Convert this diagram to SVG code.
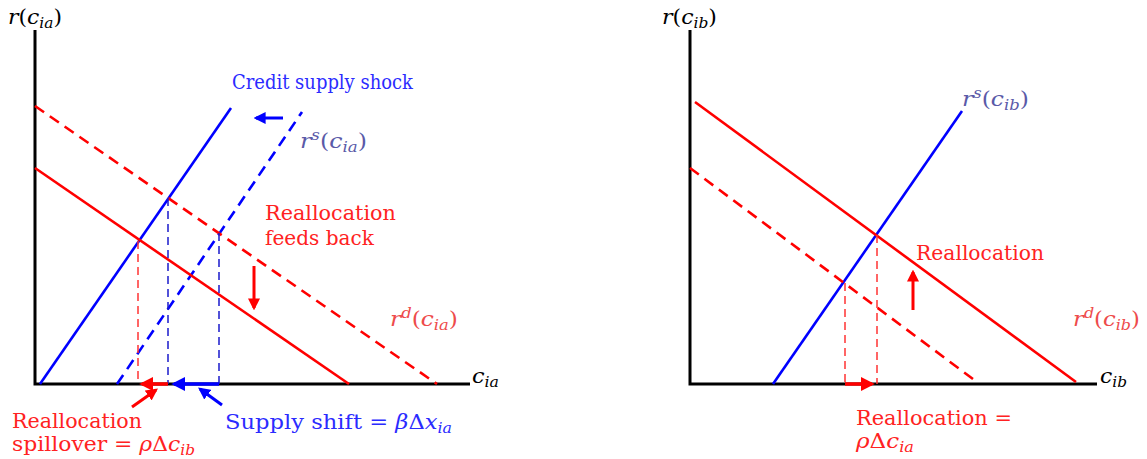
<svg xmlns="http://www.w3.org/2000/svg" width="1147" height="459" viewBox="0 0 1147 459">
<defs>
<style>
text{font-family:"DejaVu Serif","Liberation Serif",serif;font-size:20px}
.it{font-style:italic}
.sub{font-size:14px;font-style:italic}
.sup{font-size:14px;font-style:italic}
.axis{stroke:#000;stroke-width:3;fill:none}
.bl{stroke:#0000ff;stroke-width:2.6;fill:none}
.bld{stroke:#0000ff;stroke-width:2.6;fill:none;stroke-dasharray:11,7}
.rd{stroke:#ff0000;stroke-width:2.6;fill:none}
.rdd{stroke:#ff0000;stroke-width:2.6;fill:none;stroke-dasharray:11,7}
.vb{stroke:#1a1acc;stroke-width:1.5;fill:none;stroke-dasharray:8,5}
.vr{stroke:#ff3333;stroke-width:1.5;fill:none;stroke-dasharray:8,5}
.ab{stroke:#0000ff;stroke-width:3.5;fill:none}
.ar{stroke:#ff0000;stroke-width:3.5;fill:none}
.tb{fill:#2b2bff}
.tsb{fill:#5a5aa8}
.tr{fill:#ff2222}
.trl{fill:#ee4b4b}
</style>
<marker id="hb" viewBox="0 0 10 10" refX="8" refY="5" markerWidth="4" markerHeight="4" markerUnits="strokeWidth" orient="auto"><path d="M0,0 L10,5 L0,10 z" fill="#0000ff"/></marker>
<marker id="hr" viewBox="0 0 10 10" refX="8" refY="5" markerWidth="4" markerHeight="4" markerUnits="strokeWidth" orient="auto"><path d="M0,0 L10,5 L0,10 z" fill="#ff0000"/></marker>
</defs>

<g id="left-panel">
<g id="left-axes">
<path class="axis" d="M35,30 V384 H470"/>
<text x="8" y="24" textLength="54" lengthAdjust="spacingAndGlyphs"><tspan class="it">r</tspan>(<tspan class="it">c</tspan><tspan class="sub" dy="4">ia</tspan><tspan dy="-4">)</tspan></text>
<text x="472" y="383" textLength="27" lengthAdjust="spacingAndGlyphs"><tspan class="it">c</tspan><tspan class="sub" dy="4">ia</tspan></text>
</g>
<g id="left-curves">
<line class="bl" x1="40" y1="384" x2="231" y2="108"/>
<line class="bld" x1="117" y1="384" x2="302" y2="112"/>
<line class="rd" x1="35" y1="168" x2="349" y2="384"/>
<line class="rdd" x1="35" y1="106" x2="437" y2="384"/>
</g>
<g id="left-connectors">
<line class="vr" x1="138" y1="241" x2="138" y2="384"/>
<line class="vb" x1="168" y1="198" x2="168" y2="384"/>
<line class="vb" x1="219" y1="233" x2="219" y2="384"/>
<line class="ab" x1="219" y1="384" x2="174" y2="384" marker-end="url(#hb)"/>
<line class="ar" x1="168" y1="384" x2="142" y2="384" marker-end="url(#hr)"/>
<line class="ab" x1="283" y1="118" x2="256" y2="118" marker-end="url(#hb)" style="stroke-width:3"/>
<line class="ar" x1="254" y1="266" x2="254" y2="308" marker-end="url(#hr)" style="stroke-width:3"/>
<line class="ab" x1="222" y1="405" x2="200" y2="389" marker-end="url(#hb)" style="stroke-width:3"/>
<line class="ar" x1="132" y1="407" x2="156" y2="390" marker-end="url(#hr)" style="stroke-width:3"/>
</g>
<g id="left-labels">
<text class="tb" x="232" y="89" textLength="181" lengthAdjust="spacingAndGlyphs">Credit supply shock</text>
<text class="tsb" x="300" y="148" textLength="67" lengthAdjust="spacingAndGlyphs"><tspan class="it">r</tspan><tspan class="sup" dy="-8">s</tspan><tspan dy="8">(</tspan><tspan class="it">c</tspan><tspan class="sub" dy="4">ia</tspan><tspan dy="-4">)</tspan></text>
<text class="tr" x="265" y="220" textLength="131" lengthAdjust="spacingAndGlyphs">Reallocation</text>
<text class="tr" x="265" y="245" textLength="109" lengthAdjust="spacingAndGlyphs">feeds back</text>
<text class="trl" x="390" y="326" textLength="68" lengthAdjust="spacingAndGlyphs"><tspan class="it">r</tspan><tspan class="sup" dy="-8">d</tspan><tspan dy="8">(</tspan><tspan class="it">c</tspan><tspan class="sub" dy="4">ia</tspan><tspan dy="-4">)</tspan></text>
<text class="tr" x="12" y="428" textLength="130" lengthAdjust="spacingAndGlyphs">Reallocation</text>
<text class="tr" x="12" y="451" textLength="183" lengthAdjust="spacingAndGlyphs">spillover = <tspan class="it">ρ</tspan>Δ<tspan class="it">c</tspan><tspan class="sub" dy="4">ib</tspan></text>
<text class="tb" x="225" y="429" textLength="227" lengthAdjust="spacingAndGlyphs">Supply shift = <tspan class="it">β</tspan>Δ<tspan class="it">x</tspan><tspan class="sub" dy="4">ia</tspan></text>
</g>
</g>

<g id="right-panel">
<g id="right-axes">
<path class="axis" d="M690,30 V384 H1097"/>
<text x="662" y="24" textLength="55" lengthAdjust="spacingAndGlyphs"><tspan class="it">r</tspan>(<tspan class="it">c</tspan><tspan class="sub" dy="4">ib</tspan><tspan dy="-4">)</tspan></text>
<text x="1100" y="383" textLength="27" lengthAdjust="spacingAndGlyphs"><tspan class="it">c</tspan><tspan class="sub" dy="4">ib</tspan></text>
</g>
<g id="right-curves">
<line class="bl" x1="773" y1="384" x2="962" y2="111"/>
<line class="rd" x1="695" y1="102" x2="1076" y2="382"/>
<line class="rdd" x1="690" y1="168" x2="977" y2="382"/>
</g>
<g id="right-connectors">
<line class="vr" x1="845" y1="283" x2="845" y2="384"/>
<line class="vr" x1="877" y1="235" x2="877" y2="384"/>
<line class="ar" x1="845" y1="384" x2="872" y2="384" marker-end="url(#hr)"/>
<line class="ar" x1="913" y1="310" x2="913" y2="272" marker-end="url(#hr)" style="stroke-width:3"/>
</g>
<g id="right-labels">
<text class="tsb" x="962" y="106" textLength="67" lengthAdjust="spacingAndGlyphs"><tspan class="it">r</tspan><tspan class="sup" dy="-8">s</tspan><tspan dy="8">(</tspan><tspan class="it">c</tspan><tspan class="sub" dy="4">ib</tspan><tspan dy="-4">)</tspan></text>
<text class="tr" x="916" y="260" textLength="128" lengthAdjust="spacingAndGlyphs">Reallocation</text>
<text class="trl" x="1073" y="326" textLength="67" lengthAdjust="spacingAndGlyphs"><tspan class="it">r</tspan><tspan class="sup" dy="-8">d</tspan><tspan dy="8">(</tspan><tspan class="it">c</tspan><tspan class="sub" dy="4">ib</tspan><tspan dy="-4">)</tspan></text>
<text class="tr" x="856" y="425" textLength="156" lengthAdjust="spacingAndGlyphs">Reallocation =</text>
<text class="tr" x="856" y="448" textLength="58" lengthAdjust="spacingAndGlyphs"><tspan class="it">ρ</tspan>Δ<tspan class="it">c</tspan><tspan class="sub" dy="4">ia</tspan></text>
</g>
</g>
</svg>
